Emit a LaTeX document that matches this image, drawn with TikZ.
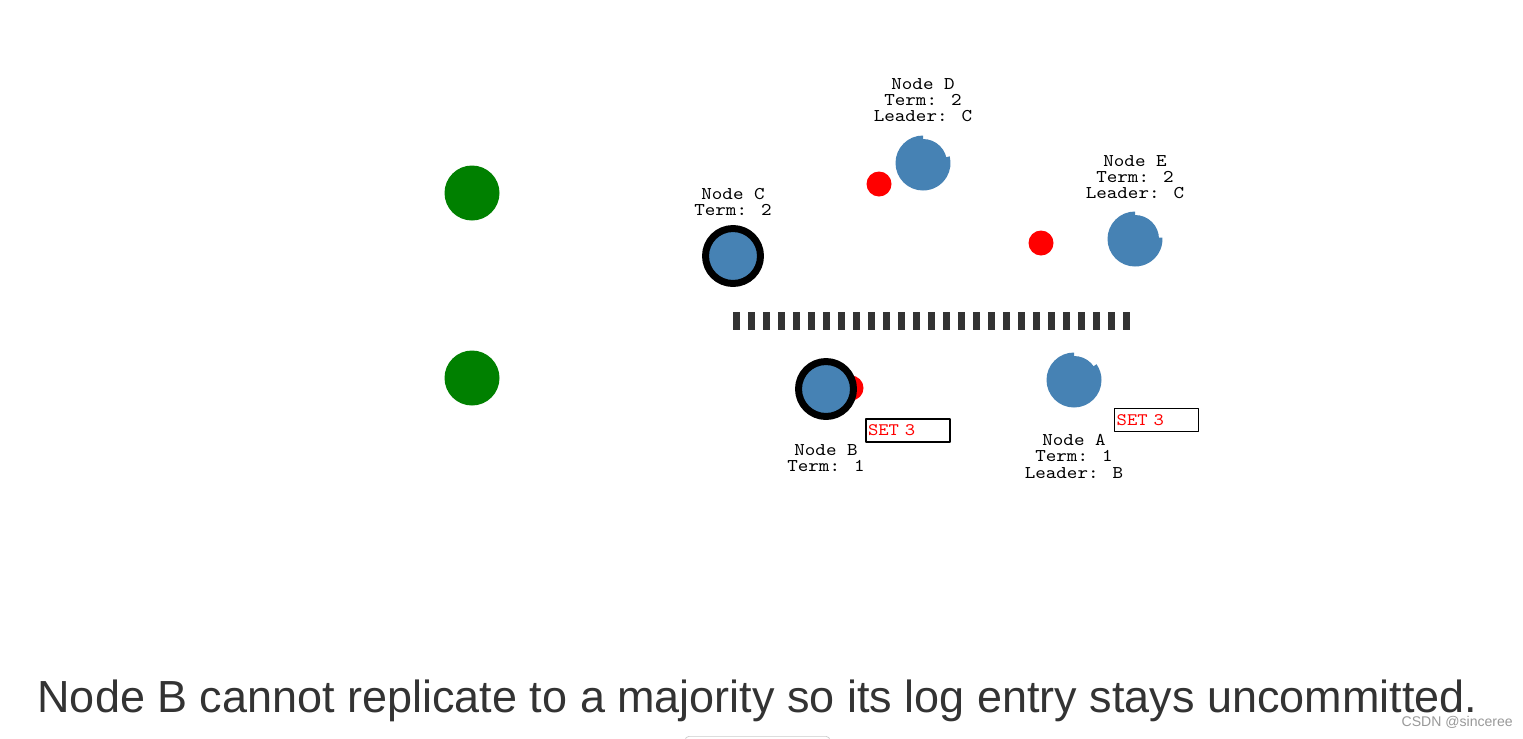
\documentclass[tikz,border=0pt]{standalone}
\usepackage{fontspec}
\setmainfont{Liberation Sans}
\newfontfamily\monofont[FakeStretch=1.12]{lmmono10-regular.otf}
\usetikzlibrary{positioning}
\definecolor{steel}{HTML}{4682B4}
\definecolor{grn}{HTML}{008000}
\definecolor{wallgray}{HTML}{333333}
\definecolor{capgray}{HTML}{333333}
\definecolor{markgray}{HTML}{999999}
\definecolor{btngray}{HTML}{CCCCCC}
\tikzset{
  every picture/.style={line join=round, x=0.02cm, y=0.02cm},
  srv/.style={circle, fill=steel, minimum size=0.96cm, inner sep=0pt},
  leader/.style={circle, fill=steel, draw=black, line width=0.14cm, minimum size=1.1cm, inner sep=0pt},
  client/.style={circle, fill=grn, minimum size=1.1cm, inner sep=0pt},
  msg/.style={circle, fill=red, minimum size=0.5cm, inner sep=0pt},
  lbl/.style={font=\monofont\fontsize{10.2}{9.3}\selectfont, align=center, inner sep=0pt, anchor=north},
  setbox/.style={draw=black, font=\monofont\fontsize{10}{10}\selectfont, text=red, text width=1.6cm, inner xsep=0.04cm, minimum height=0.44cm, align=left, anchor=north west},
  wall/.style={fill=wallgray},
}

\begin{document}
\begin{tikzpicture}
\useasboundingbox[fill=white] (0,0) rectangle (1523,-738);
\node[client] (c1) at (472,-193) {};
\node[client] (c2) at (472,-378) {};
\node[msg] (m1) at (879,-184) {};
\node[msg] (m2) at (1041,-243) {};
\node[msg] (m3) at (851,-388) {};
\node[leader] (nc) at (733,-256) {};
\node[leader] (nb) at (826,-389) {};
\node[srv] (nd) at (923,-163) {};
\fill[steel] (nd.center) -- ++(90:27.5) arc[start angle=90, end angle=374, radius=27.5] -- cycle;
\node[srv] (ne) at (1135,-239) {};
\fill[steel] (ne.center) -- ++(90:27.5) arc[start angle=90, end angle=363, radius=27.5] -- cycle;
\node[srv] (na) at (1074,-380) {};
\fill[steel] (na.center) -- ++(90:27.5) arc[start angle=90, end angle=395, radius=27.5] -- cycle;
\node[lbl] (lc) at (733,-188) {Node C\\Term: 2};
\node[lbl] (ld) at (923,-78) {Node D\\Term: 2\\Leader: C};
\node[lbl] (le) at (1135,-155) {Node E\\Term: 2\\Leader: C};
\node[lbl] (lb) at (826,-444) {Node B\\Term: 1};
\node[lbl] (la) at (1074,-434) {Node A\\Term: 1\\Leader: B};
\node[setbox, line width=0.04cm] (sb) at (865,-418) {SET 3};
\node[setbox, line width=0.026cm] (sa) at (1114,-408) {SET 3};
\foreach \i in {0,...,26}
  \fill[wall] (733+15*\i,-312) rectangle ++(7,-18);
\node[font=\fontsize{25.6}{28}\selectfont, text=capgray, anchor=base, text depth=0pt, inner ysep=0pt] (cap) at (757.5,-712) {Node B cannot replicate to a majority so its log entry stays uncommitted.};
\node[font=\fontsize{8}{9}\selectfont, text=markgray, anchor=base east, inner ysep=0pt] (mark) at (1519,-726) {CSDN @sinceree};
\begin{scope}
\clip (0,0) rectangle (1523,-738);
\node[draw=btngray, rounded corners=0.08cm, minimum width=2.9cm, minimum height=0.6cm, anchor=north] (btn) at (757.5,-736) {};
\end{scope}
\end{tikzpicture}
\end{document}
